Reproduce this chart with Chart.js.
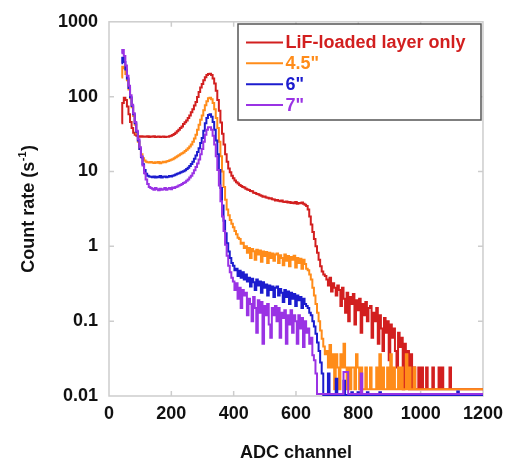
<!DOCTYPE html>
<html><head><meta charset="utf-8">
<script src="https://cdn.jsdelivr.net/npm/chart.js@4"></script>
<style>html,body{margin:0;padding:0;background:#fff;}</style>
</head><body>
<canvas id="c" width="510" height="461"></canvas>
<script>
const channels = [
40,45,50,55,60,65,70,75,80,85,90,95,100,105,110,115,120,125,130,135,
140,145,150,155,160,165,170,175,180,185,190,195,200,205,210,215,220,225,230,235,
240,245,250,255,260,265,270,275,280,285,290,295,300,305,310,315,320,325,330,335,
340,345,350,355,360,365,370,375,380,385,390,395,400,405,410,415,420,425,430,435,
440,445,450,455,460,465,470,475,480,485,490,495,500,505,510,515,520,525,530,535,
540,545,550,555,560,565,570,575,580,585,590,595,600,605,610,615,620,625,630,635,
640,645,650,655,660,665,670,675,680,685,690,695,700,705,710,715,720,725,730,735,
740,745,750,755,760,765,770,775,780,785,790,795,800,805,810,815,820,825,830,835,
840,845,850,855,860,865,870,875,880,885,890,895,900,905,910,915,920,925,930,935,
940,945,950,955,960,965,970,975,980,985,990,995,1000,1005,1010,1015,1020,1025,1030,1035,
1040,1045,1050,1055,1060,1065,1070,1075,1080,1085,1090,1095,1100,1105,1110,1115,1120,1125,1130,1135,
1140,1145,1150,1155,1160,1165,1170,1175,1180,1185,1190,1195,1200
];

const lifOnly = [
44,82,97,90,74,58,46,38,33,31,30,29.5,29.2,29.6,29,29.4,29.1,29.6,28.9,29.3,
29,29.5,28.9,29.2,29.4,28.8,29.1,29.3,28.9,29.2,29.2,29.5,30,30.8,31.8,33,34.5,36,38,40,
43,45.5,48,52,56,62,68,76,85,99,115,132,148,165,182,195,201,202,194,175,
150,120,90,65,45,32,23,17,13.5,11,9.8,8.8,8.1,7.6,7.2,6.9,6.6,6.4,6.2,6.1,
5.9,5.75,5.65,5.5,5.45,5.2,5.15,5.0,4.95,4.8,4.75,4.6,4.62,4.5,4.45,4.35,4.38,4.25,4.22,4.1,
4.15,4.05,4.0,4.1,3.95,3.9,3.98,3.85,3.9,3.8,3.85,3.75,3.9,3.7,3.8,3.75,3.85,3.7,3.6,3.45,
3.1,2.5,1.95,1.55,1.25,1.0,0.82,0.66,0.54,0.46,0.42,0.4,0.36,0.3,0.38,0.25,0.32,0.28,0.22,0.3,
0.26,0.16,0.28,0.2,0.13,0.24,0.1,0.21,0.17,0.23,0.09,0.19,0.14,0.2,0.07,0.17,0.12,0.18,0.1,0.15,
0.16,0.06,0.13,0.1,0.15,0.05,0.12,0.08,0.04,0.11,0.07,0.1,0.03,0.09,0.06,0.08,0.04,0.024,0.07,0.045,
0.06,0.0123,0.05,0.024,0.04,0.0123,0.036,0.0123,0.024,0.0123,0.0123,0.024,0.0123,0.024,0.0123,0.0123,0.024,0.0123,0.0123,0.0123,
0.024,0.0123,0.0123,0.0123,0.024,0.0123,0.024,0.0123,0.0123,0.0123,0.0123,0.024,0.0123,0.0123,0.0123,0.0123,0.0123,0.0123,0.0123,0.0123,
0.0123,0.0123,0.0123,0.0123,0.0123,0.0123,0.0123,0.0123,0.0123,0.0123,0.0123,0.0123,0.0123
];

const inch45 = [
180,250,240,200,165,125,95,72,55,42,32,25,20,17,15,14,13.5,13.3,13.2,13.4,
13.2,13.0,13.3,13.1,13.4,12.9,13.2,13.5,13.3,13.6,13.8,14.0,14.3,14.6,15.0,15.5,16.0,16.5,17.0,17.5,
18,18.8,19.5,20.5,21.5,23,25,27.5,31,36,42,49,56,66,77,87,95,97,92,82,
68,52,38,25,16,10,6.2,4.2,3.1,2.6,2.25,2.0,1.8,1.6,1.45,1.3,1.25,1.08,1.12,0.95,
1.0,0.82,0.95,0.7,0.92,0.86,0.66,0.9,0.78,0.88,0.62,0.85,0.74,0.84,0.6,0.82,0.7,0.8,0.64,0.78,
0.8,0.6,0.76,0.7,0.56,0.78,0.64,0.74,0.54,0.72,0.66,0.75,0.52,0.7,0.6,0.68,0.5,0.66,0.58,0.5,
0.48,0.42,0.36,0.28,0.22,0.17,0.13,0.1,0.075,0.058,0.046,0.036,0.04,0.024,0.048,0.024,0.036,0.0123,0.036,0.024,
0.0123,0.036,0.024,0.05,0.024,0.0123,0.024,0.0123,0.024,0.024,0.0123,0.036,0.024,0.0123,0.024,0.0123,0.0123,0.024,0.0123,0.0123,
0.024,0.0123,0.0123,0.0123,0.024,0.0123,0.036,0.0123,0.024,0.0123,0.0123,0.024,0.0123,0.036,0.0123,0.024,0.0123,0.0123,0.024,0.0123,
0.024,0.0123,0.0123,0.036,0.0123,0.024,0.0123,0.0123,0.024,0.0123,0.0123,0.0123,0.0123,0.0123,0.0123,0.0123,0.0123,0.0123,0.0123,0.0123,
0.0123,0.0123,0.0123,0.0123,0.0123,0.0123,0.0123,0.0123,0.0123,0.0123,0.0123,0.0123,0.0123,0.0123,0.0123,0.0123,0.0123,0.0123,0.0123,0.0123,
0.0123,0.0123,0.0123,0.0123,0.0123,0.0123,0.0123,0.0123,0.0123,0.0123,0.0123,0.0123,0.0123
];

const inch6 = [
280,330,290,230,175,130,98,75,58,44,34,26,20,15.5,12.5,10.5,9.3,8.8,8.6,8.5,
8.4,8.6,8.3,8.5,8.4,8.7,8.3,8.5,8.6,8.4,8.5,8.7,8.6,8.8,8.9,9.1,9.3,9.5,9.7,9.9,
10.1,10.4,10.8,11.2,11.8,12.6,13.5,14.8,16.3,18.2,20.5,24,28,35,44,52,57,58,54,46,
36,26,17,10.5,6,3.5,2.2,1.5,1.1,0.85,0.7,0.6,0.55,0.48,0.5,0.4,0.47,0.38,0.45,0.36,
0.42,0.34,0.38,0.29,0.37,0.33,0.26,0.36,0.3,0.34,0.24,0.33,0.28,0.31,0.22,0.3,0.26,0.29,0.21,0.28,
0.29,0.22,0.27,0.24,0.18,0.26,0.21,0.25,0.17,0.24,0.2,0.23,0.16,0.22,0.19,0.21,0.15,0.2,0.17,0.16,
0.15,0.13,0.12,0.1,0.085,0.068,0.052,0.04,0.028,0.02,0.0103,0.0103,0.0103,0.02,0.0103,0.0103,0.0103,0.0103,0.017,0.0103,
0.0103,0.0103,0.0103,0.016,0.0103,0.0103,0.0103,0.0103,0.0112,0.0103,0.0103,0.0103,0.0112,0.0103,0.0103,0.0103,0.0103,0.0103,0.0112,0.0103,
0.0103,0.0103,0.0103,0.0103,0.0103,0.0103,0.0112,0.0103,0.0103,0.0103,0.0103,0.0103,0.0103,0.0103,0.0103,0.0103,0.0103,0.0103,0.0103,0.0103,
0.0103,0.0103,0.0103,0.0103,0.0103,0.0103,0.0103,0.0103,0.0103,0.0103,0.0103,0.0103,0.0103,0.0103,0.0103,0.0103,0.0103,0.0103,0.0103,0.0103,
0.0103,0.0103,0.0103,0.0103,0.0103,0.0103,0.0103,0.0103,0.0103,0.0103,0.0103,0.0103,0.0103,0.0103,0.0103,0.0103,0.0115,0.0103,0.0103,0.0103,
0.0103,0.0103,0.0103,0.0103,0.0103,0.0103,0.0103,0.0103,0.0103,0.0103,0.0103,0.0103,0.0103
];

const inch7 = [
380,420,350,260,190,140,104,78,60,46,35,27,21,16,12,9.5,7.8,6.8,6.2,6.0,
5.9,5.7,6.0,5.8,5.6,5.9,5.7,5.8,6.0,5.7,5.9,6.0,5.8,6.1,6.0,6.2,6.3,6.5,6.6,6.8,
7.0,7.2,7.5,7.8,8.3,8.8,9.5,10.4,11.5,12.8,14.5,17,20,25,31,36,39,39,36,30,
23,16,10.5,6.5,4,2.5,1.6,1.05,0.75,0.55,0.45,0.38,0.34,0.26,0.32,0.2,0.28,0.15,0.26,0.22,
0.24,0.12,0.2,0.17,0.1,0.21,0.15,0.07,0.19,0.13,0.18,0.05,0.16,0.12,0.17,0.09,0.06,0.15,0.12,0.16,
0.1,0.15,0.06,0.13,0.11,0.14,0.05,0.12,0.09,0.14,0.07,0.12,0.1,0.05,0.12,0.08,0.11,0.045,0.1,0.07,
0.08,0.05,0.06,0.035,0.03,0.02,0.0106,0.0106,0.0106,0.0106,0.0106,0.0106,0.0106,0.0106,0.0106,0.0106,0.0106,0.0106,0.0106,0.0106,
0.0106,0.0106,0.0106,0.021,0.021,0.021,0.0106,0.0106,0.0106,0.0106,0.0106,0.0106,0.0106,0.0106,0.02,0.0106,0.0106,0.0106,0.0106,0.0106,
0.0106,0.0106,0.0106,0.0106,0.0106,0.0106,0.0106,0.0106,0.0106,0.0106,0.0106,0.0106,0.0106,0.0106,0.0106,0.0106,0.0106,0.0106,0.0106,0.0106,
0.0106,0.0106,0.0106,0.0106,0.0106,0.0106,0.0106,0.0106,0.0106,0.0106,0.0106,0.0106,0.0106,0.0106,0.0106,0.0106,0.0106,0.0106,0.0106,0.0106,
0.0106,0.0106,0.0106,0.0106,0.0106,0.0106,0.0106,0.0106,0.0106,0.0106,0.0106,0.0106,0.0106,0.0106,0.0106,0.0106,0.0106,0.0106,0.0106,0.0106,
0.0106,0.0106,0.0106,0.0106,0.0106,0.0106,0.0106,0.0106,0.0106,0.0106,0.0106,0.0106,0.0106
];

const xTickValues = [0, 200, 400, 600, 800, 1000, 1200];
const xTickLabels = ['0', '200', '400', '600', '800', '1000', '1200'];
const yTickValues = [0.01, 0.1, 1, 10, 100, 1000];
const yTickLabels = ['0.01', '0.1', '1', '10', '100', '1000'];
const seriesNames = ['LiF-loaded layer only', '4.5"', '6"', '7"'];
const seriesColors = ['#d21f1f', '#ff8c1a', '#1c1cce', '#9a33e4'];
const seriesValues = [lifOnly, inch45, inch6, inch7];
const xTitle = 'ADC channel';
const yTitleMain = 'Count rate (s';
const yTitleSup = '-1';
const yTitleEnd = ')';

const FONT = '"Liberation Sans", Arial, Helvetica, sans-serif';
Chart.defaults.font.family = FONT;

const framePlugin = {
  id: 'frame',
  beforeDatasetsDraw(chart) {
    const {ctx, chartArea: a, scales} = chart;
    ctx.save();
    ctx.strokeStyle = '#cdcdcd';
    ctx.lineWidth = 1.5;
    ctx.strokeRect(a.left, a.top, a.right - a.left, a.bottom - a.top);
    ctx.beginPath();
    xTickValues.forEach(v => {
      const px = scales.x.getPixelForValue(v);
      if (px <= a.left + 1 || px >= a.right - 1) return;
      ctx.moveTo(px, a.bottom); ctx.lineTo(px, a.bottom - 5);
      ctx.moveTo(px, a.top); ctx.lineTo(px, a.top + 5);
    });
    yTickValues.forEach(v => {
      const py = scales.y.getPixelForValue(v);
      if (py <= a.top + 1 || py >= a.bottom - 1) return;
      ctx.moveTo(a.left, py); ctx.lineTo(a.left + 5, py);
      ctx.moveTo(a.right, py); ctx.lineTo(a.right - 5, py);
    });
    ctx.stroke();
    ctx.restore();
  }
};

const annotPlugin = {
  id: 'annot',
  afterDraw(chart) {
    const {ctx, chartArea: a} = chart;
    ctx.save();
    const bx = 238, by = 24, bw = 243, bh = 96;
    ctx.fillStyle = '#fff';
    ctx.fillRect(bx, by, bw, bh);
    ctx.strokeStyle = '#555';
    ctx.lineWidth = 1.5;
    ctx.strokeRect(bx, by, bw, bh);
    const rows = [42.5, 63.3, 84.2, 105];
    ctx.font = 'bold 18px ' + FONT;
    ctx.textBaseline = 'middle';
    ctx.textAlign = 'left';
    seriesNames.forEach((n, i) => {
      ctx.strokeStyle = seriesColors[i];
      ctx.lineWidth = 2;
      ctx.beginPath();
      ctx.moveTo(246, rows[i]); ctx.lineTo(283, rows[i]);
      ctx.stroke();
      ctx.fillStyle = seriesColors[i];
      ctx.fillText(n, 285.5, rows[i] + 1);
    });
    ctx.fillStyle = '#111';
    ctx.textAlign = 'center';
    ctx.fillText(xTitle, (a.left + a.right) / 2, 453);
    ctx.translate(29, (a.top + a.bottom) / 2);
    ctx.rotate(-Math.PI / 2);
    ctx.textAlign = 'left';
    ctx.font = 'bold 18px ' + FONT;
    const w1 = ctx.measureText(yTitleMain).width;
    const w3 = ctx.measureText(yTitleEnd).width;
    ctx.font = 'bold 11px ' + FONT;
    const w2 = ctx.measureText(yTitleSup).width;
    let x0 = -(w1 + w2 + w3 + 1) / 2;
    ctx.font = 'bold 18px ' + FONT;
    ctx.fillText(yTitleMain, x0, 0);
    ctx.font = 'bold 11px ' + FONT;
    ctx.fillText(yTitleSup, x0 + w1 + 0.5, -6);
    ctx.font = 'bold 18px ' + FONT;
    ctx.fillText(yTitleEnd, x0 + w1 + w2 + 1, 0);
    ctx.restore();
  }
};

new Chart(document.getElementById('c'), {
  type: 'line',
  data: {
    labels: channels,
    datasets: seriesValues.map((vals, i) => ({
      label: seriesNames[i],
      data: vals.map((v, j) => ({x: channels[j], y: v})),
      borderColor: seriesColors[i],
      backgroundColor: seriesColors[i],
      borderWidth: 2,
      pointRadius: 0,
      stepped: 'middle',
      fill: false,
      order: 4 - i
    }))
  },
  options: {
    responsive: false,
    animation: false,
    devicePixelRatio: 1,
    layout: {padding: {top: 19, right: 25, left: 0, bottom: 0}},
    plugins: {legend: {display: false}, tooltip: {enabled: false}},
    scales: {
      x: {
        type: 'linear', min: 0, max: 1200,
        afterBuildTicks: s => { s.ticks = xTickValues.map(v => ({value: v})); },
        ticks: {
          font: {size: 18, weight: 'bold'}, color: '#111', padding: 7, maxRotation: 0, autoSkip: false,
          callback: (v) => { const k = xTickValues.indexOf(v); return k >= 0 ? xTickLabels[k] : ''; }
        },
        grid: {display: false, drawTicks: false},
        border: {display: false},
        afterFit: s => { s.height = 65; }
      },
      y: {
        type: 'logarithmic', min: 0.01, max: 1000,
        afterBuildTicks: s => { s.ticks = yTickValues.map(v => ({value: v})); },
        ticks: {
          font: {size: 18, weight: 'bold'}, color: '#111', padding: 11, autoSkip: false,
          callback: (v) => { const k = yTickValues.indexOf(v); return k >= 0 ? yTickLabels[k] : ''; }
        },
        grid: {display: false, drawTicks: false},
        border: {display: false},
        afterFit: s => { s.width = 109; }
      }
    }
  },
  plugins: [framePlugin, annotPlugin]
});
</script>
</body></html>
